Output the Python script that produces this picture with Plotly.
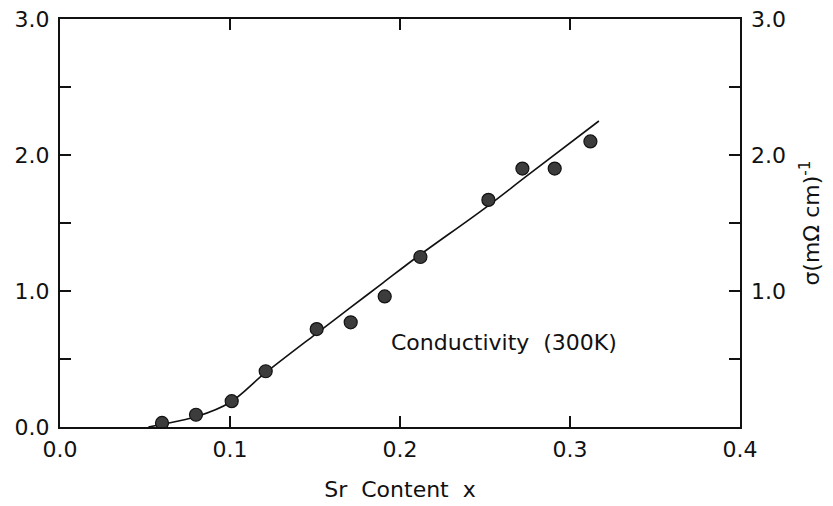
import plotly.graph_objects as go

# Measured conductivity at 300 K versus Sr content
sr_content = [0.060, 0.080, 0.101, 0.121, 0.151, 0.171, 0.191, 0.212, 0.252, 0.272, 0.291, 0.312]
conductivity = [0.03, 0.09, 0.19, 0.41, 0.72, 0.77, 0.96, 1.25, 1.67, 1.90, 1.90, 2.10]

# Smooth guide curve through the data
curve_x = [0.052, 0.060, 0.080, 0.100, 0.120, 0.150, 0.170, 0.190, 0.210, 0.250, 0.275, 0.317]
curve_y = [0.00, 0.02, 0.075, 0.18, 0.39, 0.68, 0.87, 1.06, 1.25, 1.61, 1.85, 2.25]

y_ticks = [0, 1, 2, 3]
y_ticktext = ["0.0", "1.0", "2.0", "3.0"]
x_ticks = [0.0, 0.1, 0.2, 0.3, 0.4]
x_ticktext = ["0.0", "0.1", "0.2", "0.3", "0.4"]

FONT = "DejaVu Sans"
INK = "#111111"
FS = 22

fig = go.Figure()
fig.add_trace(go.Scatter(
    x=curve_x, y=curve_y, mode="lines",
    line=dict(color=INK, width=1.6, shape="spline", smoothing=1.0),
    hoverinfo="skip", showlegend=False,
))
fig.add_trace(go.Scatter(
    x=sr_content, y=conductivity, mode="markers",
    marker=dict(size=13, color="#3c3c3c", line=dict(color=INK, width=1.2)),
    showlegend=False,
))
# invisible trace to anchor the right-hand axis
fig.add_trace(go.Scatter(x=[0.0], y=[0.0], yaxis="y2", mode="markers",
                         marker=dict(opacity=0), hoverinfo="skip", showlegend=False))

fig.add_annotation(x=0.261, y=0.625, text="Conductivity  (300K)", showarrow=False,
                   font=dict(family=FONT, size=FS, color=INK), xanchor="center", yanchor="middle")

fig.update_layout(
    width=833, height=506,
    margin=dict(l=60, r=93, t=19, b=79),
    paper_bgcolor="white", plot_bgcolor="white",
    font=dict(family=FONT, size=FS, color=INK),
    xaxis=dict(
        range=[0, 0.4], tickvals=x_ticks, ticktext=x_ticktext,
        ticks="inside", ticklen=11, tickwidth=1.5, tickcolor=INK,
        showline=True, linecolor=INK, linewidth=2, mirror="ticks",
        showgrid=False, zeroline=False, ticklabelstandoff=2, automargin=False,
        title=dict(text="Sr  Content  x", standoff=20, font=dict(size=FS)),
    ),
    yaxis=dict(
        range=[0, 3], tickvals=y_ticks, ticktext=y_ticktext,
        ticks="inside", ticklen=11, tickwidth=1.5, tickcolor=INK,
        minor=dict(dtick=0.5, tick0=0, ticks="inside", ticklen=11, tickwidth=1.5,
                   tickcolor=INK, showgrid=False),
        showline=True, linecolor=INK, linewidth=2, mirror="ticks",
        showgrid=False, zeroline=False, ticklabelstandoff=4, automargin=False,
    ),
    yaxis2=dict(
        range=[0, 3], overlaying="y", side="right",
        tickvals=[1, 2, 3], ticktext=["1.0", "2.0", "3.0"], ticks="",
        showline=False, showgrid=False, zeroline=False, ticklabelstandoff=10,
        automargin=False,
        title=dict(text="σ(mΩ cm)<sup>-1</sup>", standoff=18, font=dict(size=FS)),
    ),
)

fig.write_html("out.html")
